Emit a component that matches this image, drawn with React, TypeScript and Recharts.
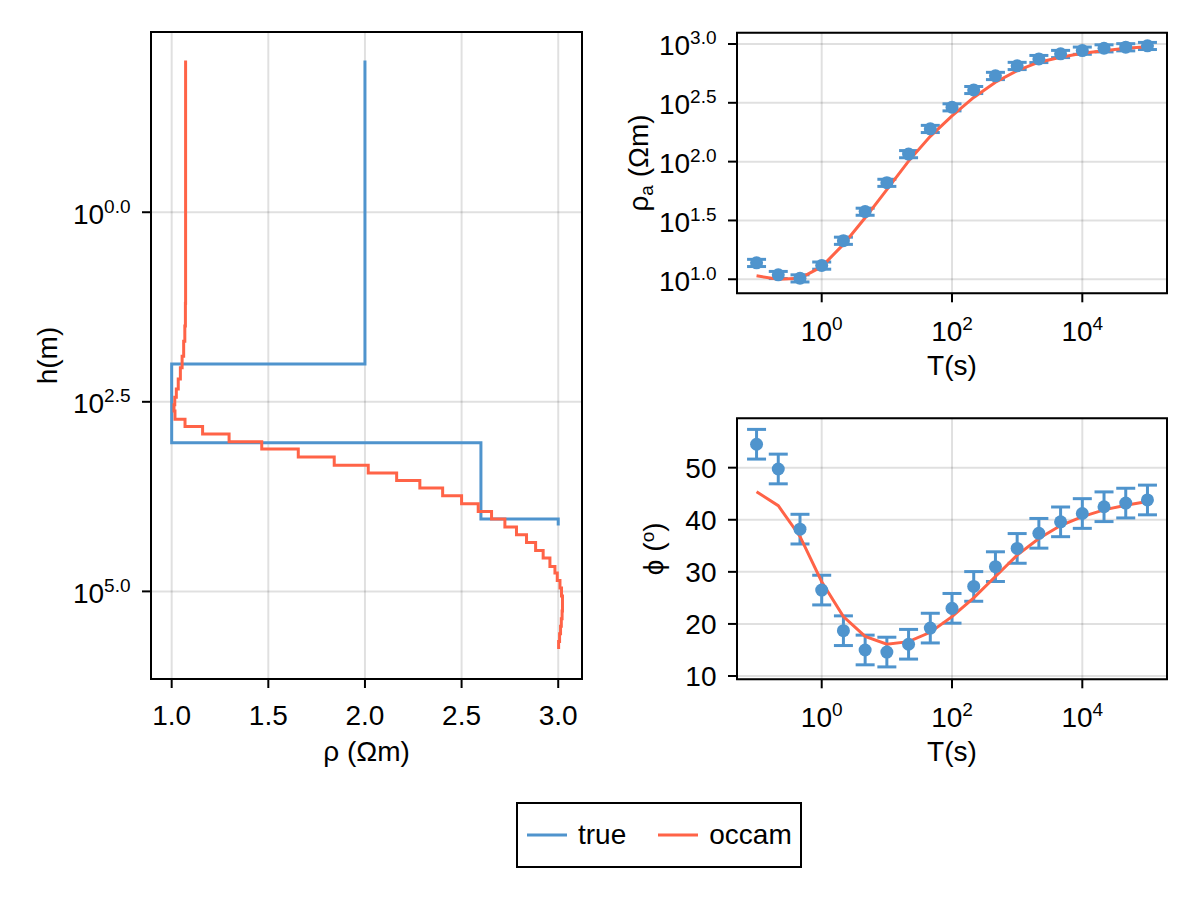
import React from 'react';
import {
  ComposedChart,
  Scatter,
  Line,
  XAxis,
  YAxis,
  CartesianGrid,
  ErrorBar,
  ReferenceArea,
  Legend,
  Label,
} from 'recharts';

const BLUE = '#4F94CD';
const RED = '#FF6347';
const FONT = '"Liberation Sans", Arial, Helvetica, sans-serif';
const FS = 28;
const SUP = 19;
const GRID = 'rgba(0,0,0,0.12)';

// ---- left panel: resistivity vs depth ----
// true model: layer tops (m), last value is where the half-space is cut off
const trueDepth = [0.01, 100, 1100, 11100, 13500];
const trueRho = [2.0, 1.0, 2.6, 3.0];

// occam model: layer boundaries (m) and layer resistivities
const occamDepth = [
  0.01, 15.8, 31.6, 50.1, 79.4, 112, 158, 214, 275, 347, 417, 537, 670, 843, 1067, 1330,
  1694, 2163, 2754, 3451, 4345, 5483, 6998, 8831, 11117, 14191, 17906, 22646, 28840,
  36308, 46881, 57280, 71779, 90365, 114815, 144544, 181970, 229087, 288403, 363078,
  457088, 575440,
];
const occamRho = [
  1.072, 1.071, 1.068, 1.062, 1.054, 1.045, 1.034, 1.024, 1.016, 1.012, 1.017, 1.069, 1.16,
  1.297, 1.466, 1.655, 1.841, 2.017, 2.164, 2.284, 2.402, 2.5, 2.586, 2.655, 2.724, 2.784,
  2.836, 2.883, 2.922, 2.957, 2.983, 2.995, 3.009, 3.017, 3.022, 3.022, 3.02, 3.016, 3.012,
  3.007, 3.002,
];

const rhoTicks = [1.0, 1.5, 2.0, 2.5, 3.0];
const depthTickExp = [0.0, 2.5, 5.0];
const rhoDomain = [0.893, 3.123];
const depthDomain = [0.0042, 1.43e6];

// ---- right panels: sounding curves ----
const periods = [
  0.1, 0.2154, 0.4642, 1, 2.154, 4.642, 10, 21.54, 46.42, 100, 215.4, 464.2, 1000, 2154,
  4642, 10000, 21544, 46416, 100000,
];
const rhoaObs = [13.8, 10.9, 10.2, 13.1, 21.3, 37.6, 66.2, 116, 190, 290, 407, 536, 652, 747, 824, 879, 920, 940, 964];
const rhoaErr = [0.97, 0.76, 0.71, 0.92, 1.5, 2.6, 4.6, 8.1, 13.3, 20, 28, 38, 46, 52, 58, 62, 64, 66, 67];
const rhoaFit = [10.7, 10.0, 10.2, 12.8, 19.8, 33.3, 57.9, 101, 164, 245, 351, 473, 594, 700, 771, 834, 877, 918, 948];

const phaseObs = [54.5, 49.75, 38.2, 26.5, 18.7, 15.0, 14.6, 16.1, 19.2, 23.0, 27.2, 31.0, 34.5, 37.4, 39.6, 41.2, 42.5, 43.2, 43.8];
const phaseErr = [2.85, 2.85, 2.85, 2.85, 2.85, 2.85, 2.85, 2.85, 2.85, 2.85, 2.85, 2.85, 2.85, 2.85, 2.85, 2.85, 2.85, 2.85, 2.85];
const phaseFit = [45.4, 42.7, 36.8, 28.1, 21.4, 17.6, 16.1, 16.6, 18.4, 21.4, 25.0, 29.1, 33.2, 36.4, 38.9, 40.6, 41.9, 42.8, 43.5];

const periodTickExp = [0, 2, 4];
const rhoaTickExp = [1.0, 1.5, 2.0, 2.5, 3.0];
const phaseTicks = [10, 20, 30, 40, 50];
const periodDomain = [0.0501, 199500];
const rhoaDomain = [7.6, 1247];
const phaseDomain = [9.37, 59.48];

// ---- tables built from the arrays ----
const stairs = (depth: number[], rho: number[]) =>
  rho.flatMap((r, i) => [
    { rho: r, h: depth[i] },
    { rho: r, h: depth[i + 1] },
  ]);
const trueSteps = stairs(trueDepth, trueRho);
const occamSteps = stairs(occamDepth, occamRho);

const rhoaPts = periods.map((T, i) => ({ T, v: rhoaObs[i], err: rhoaErr[i] }));
const rhoaLine = periods.map((T, i) => ({ T, v: rhoaFit[i] }));
const phasePts = periods.map((T, i) => ({ T, v: phaseObs[i], err: phaseErr[i] }));
const phaseLine = periods.map((T, i) => ({ T, v: phaseFit[i] }));

const pow = (exps: number[]) => exps.map((e) => Math.pow(10, e));

// ---- ticks ----
const txt = { fontFamily: FONT, fontSize: FS, fill: '#000' };

const PlainTickX = (p: any) => (
  <text x={p.x} y={p.y + 37} textAnchor="middle" {...txt}>
    {Number(p.payload.value).toFixed(1)}
  </text>
);

const PowTickX = (p: any) => (
  <text x={p.x} y={p.y + 38.5} textAnchor="middle" {...txt}>
    <tspan>10</tspan>
    <tspan dy={-11} fontSize={SUP}>
      {Math.round(Math.log10(p.payload.value))}
    </tspan>
  </text>
);

const PlainTickY = (p: any) => (
  <text x={p.x - 11.5} y={p.y + 10} textAnchor="end" {...txt}>
    {p.payload.value}
  </text>
);

const PowTickY = (p: any) => (
  <text x={p.x - 11.5} y={p.y + 11.5} textAnchor="end" {...txt}>
    <tspan>10</tspan>
    <tspan dy={-11} fontSize={SUP}>
      {Math.log10(p.payload.value).toFixed(1)}
    </tspan>
  </text>
);

// ---- axis titles ----
const titleX = (content: React.ReactNode) => (p: any) => {
  const vb = p.viewBox;
  return (
    <text x={vb.x + vb.width / 2} y={vb.y + 82} textAnchor="middle" {...txt}>
      {content}
    </text>
  );
};

const titleY = (content: React.ReactNode, off: number) => (p: any) => {
  const vb = p.viewBox;
  const cx = vb.x + vb.width - off;
  const cy = vb.y + vb.height / 2;
  return (
    <text x={cx} y={cy} textAnchor="middle" transform={`rotate(-90, ${cx}, ${cy})`} {...txt}>
      {content}
    </text>
  );
};

const Dot = (p: any) => <circle cx={p.cx} cy={p.cy} r={6.5} fill={BLUE} />;
const NoDot = () => null;

const legendOrder = ['true', 'occam'];
const LegendBox = (props: any) => {
  const items = [...(props.payload || [])].sort(
    (a: any, b: any) => legendOrder.indexOf(a.value) - legendOrder.indexOf(b.value)
  );
  return (
    <div
      style={{
        width: 286,
        height: 66,
        boxSizing: 'border-box',
        border: '2px solid #000',
        background: '#fff',
        display: 'flex',
        alignItems: 'center',
        fontFamily: FONT,
        fontSize: FS,
        color: '#000',
      }}
    >
      {items.map((it: any, i: number) => (
        <div key={it.value} style={{ display: 'flex', alignItems: 'center', marginLeft: i === 0 ? 9 : 32 }}>
          <svg width={40} height={6}>
            <line x1={0} y1={3} x2={40} y2={3} stroke={it.color} strokeWidth={3} />
          </svg>
          <span style={{ marginLeft: 11 }}>{it.value}</span>
        </div>
      ))}
    </div>
  );
};

const tickLine = { stroke: '#000', strokeWidth: 2 };

const App: React.FC = () => {
  return (
    <div style={{ position: 'absolute', left: 0, top: 0, width: 1200, height: 900, background: '#fff' }}>
      {/* left: model profile */}
      <div style={{ position: 'absolute', left: 0, top: 0 }}>
        <ComposedChart width={600} height={800} margin={{ top: 32, right: 18, bottom: 21, left: 0 }}>
          <CartesianGrid stroke={GRID} strokeWidth={2} />
          <XAxis
            type="number"
            dataKey="rho"
            domain={rhoDomain}
            allowDataOverflow
            ticks={rhoTicks}
            interval={0}
            height={100}
            axisLine={false}
            tickLine={tickLine}
            tickSize={9}
            tickMargin={0}
            tick={(p: any) => <PlainTickX {...p} />}
          >
            <Label content={titleX('ρ (Ωm)')} />
          </XAxis>
          <YAxis
            type="number"
            dataKey="h"
            scale="log"
            reversed
            domain={depthDomain}
            allowDataOverflow
            ticks={pow(depthTickExp)}
            interval={0}
            width={151}
            axisLine={false}
            tickLine={tickLine}
            tickSize={9}
            tickMargin={0}
            tick={(p: any) => <PowTickY {...p} />}
          >
            <Label content={titleY('h(m)', 94)} />
          </YAxis>
          <Scatter
            name="true"
            data={trueSteps}
            fill={BLUE}
            line={{ stroke: BLUE, strokeWidth: 3 }}
            shape={NoDot}
            isAnimationActive={false}
          />
          <Scatter
            name="occam"
            data={occamSteps}
            fill={RED}
            line={{ stroke: RED, strokeWidth: 3 }}
            shape={NoDot}
            isAnimationActive={false}
          />
          <ReferenceArea
            x1={rhoDomain[0]}
            x2={rhoDomain[1]}
            y1={depthDomain[0]}
            y2={depthDomain[1]}
            fill="none"
            stroke="#000"
            strokeWidth={2}
            ifOverflow="visible"
          />
          <Legend
            layout="horizontal"
            verticalAlign="middle"
            align="center"
            content={LegendBox}
            wrapperStyle={{ position: 'absolute', left: 516, top: 802, width: 286, height: 66 }}
          />
        </ComposedChart>
      </div>

      {/* top right: apparent resistivity */}
      <div style={{ position: 'absolute', left: 600, top: 0 }}>
        <ComposedChart width={600} height={400} margin={{ top: 32.7, right: 33, bottom: 6.7, left: 0 }}>
          <CartesianGrid stroke={GRID} strokeWidth={2} />
          <XAxis
            type="number"
            dataKey="T"
            scale="log"
            domain={periodDomain}
            allowDataOverflow
            ticks={pow(periodTickExp)}
            interval={0}
            height={100}
            axisLine={false}
            tickLine={tickLine}
            tickSize={9}
            tickMargin={0}
            tick={(p: any) => <PowTickX {...p} />}
          >
            <Label content={titleX('T(s)')} />
          </XAxis>
          <YAxis
            type="number"
            dataKey="v"
            scale="log"
            domain={rhoaDomain}
            allowDataOverflow
            ticks={pow(rhoaTickExp)}
            interval={0}
            width={137}
            axisLine={false}
            tickLine={tickLine}
            tickSize={9}
            tickMargin={0}
            tick={(p: any) => <PowTickY {...p} />}
          >
            <Label
              content={titleY(
                <>
                  <tspan>ρ</tspan>
                  <tspan dy={5} fontSize={SUP}>a</tspan>
                  <tspan dy={-5}> (Ωm)</tspan>
                </>,
                89
              )}
            />
          </YAxis>
          <Scatter data={rhoaPts} fill={BLUE} shape={Dot} isAnimationActive={false}>
            <ErrorBar dataKey="err" direction="y" width={9.5} stroke={BLUE} strokeWidth={3} />
          </Scatter>
          <Line
            data={rhoaLine}
            dataKey="v"
            type="linear"
            stroke={RED}
            strokeWidth={3}
            dot={false}
            activeDot={false}
            isAnimationActive={false}
          />
          <ReferenceArea
            x1={periodDomain[0]}
            x2={periodDomain[1]}
            y1={rhoaDomain[0]}
            y2={rhoaDomain[1]}
            fill="none"
            stroke="#000"
            strokeWidth={2}
            ifOverflow="visible"
          />
        </ComposedChart>
      </div>

      {/* bottom right: phase */}
      <div style={{ position: 'absolute', left: 600, top: 390 }}>
        <ComposedChart width={600} height={400} margin={{ top: 28.3, right: 33, bottom: 10.7, left: 0 }}>
          <CartesianGrid stroke={GRID} strokeWidth={2} />
          <XAxis
            type="number"
            dataKey="T"
            scale="log"
            domain={periodDomain}
            allowDataOverflow
            ticks={pow(periodTickExp)}
            interval={0}
            height={100}
            axisLine={false}
            tickLine={tickLine}
            tickSize={9}
            tickMargin={0}
            tick={(p: any) => <PowTickX {...p} />}
          >
            <Label content={titleX('T(s)')} />
          </XAxis>
          <YAxis
            type="number"
            dataKey="v"
            domain={phaseDomain}
            allowDataOverflow
            ticks={phaseTicks}
            interval={0}
            width={137}
            axisLine={false}
            tickLine={tickLine}
            tickSize={9}
            tickMargin={0}
            tick={(p: any) => <PlainTickY {...p} />}
          >
            <Label
              content={titleY(
                <>
                  <tspan>ϕ (</tspan>
                  <tspan dy={-9} fontSize={SUP}>o</tspan>
                  <tspan dy={9}>)</tspan>
                </>,
                74
              )}
            />
          </YAxis>
          <Scatter data={phasePts} fill={BLUE} shape={Dot} isAnimationActive={false}>
            <ErrorBar dataKey="err" direction="y" width={9.5} stroke={BLUE} strokeWidth={3} />
          </Scatter>
          <Line
            data={phaseLine}
            dataKey="v"
            type="linear"
            stroke={RED}
            strokeWidth={3}
            dot={false}
            activeDot={false}
            isAnimationActive={false}
          />
          <ReferenceArea
            x1={periodDomain[0]}
            x2={periodDomain[1]}
            y1={phaseDomain[0]}
            y2={phaseDomain[1]}
            fill="none"
            stroke="#000"
            strokeWidth={2}
            ifOverflow="visible"
          />
        </ComposedChart>
      </div>
    </div>
  );
};

export default App;
